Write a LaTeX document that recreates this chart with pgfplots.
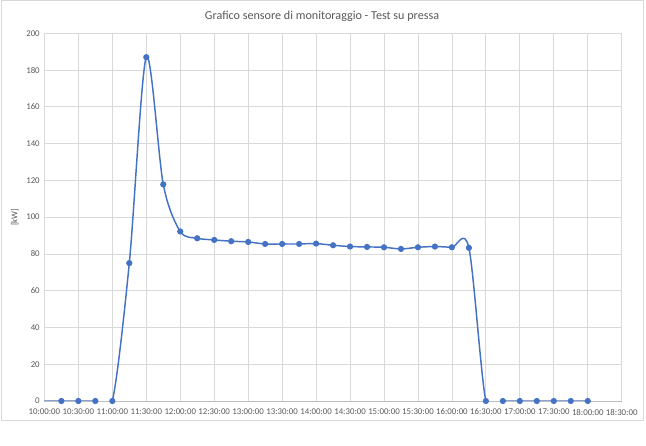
\documentclass[border=0pt]{standalone}
\usepackage{fontspec}
\setmainfont{Carlito}
\usepackage{pgfplots}
\pgfplotsset{compat=1.18}
\definecolor{xlblue}{HTML}{4472C4}
\definecolor{xlgrid}{HTML}{D9D9D9}
\definecolor{xltext}{HTML}{595959}
\definecolor{xlframe}{HTML}{D9D9D9}

\begin{document}
\begin{tikzpicture}
\useasboundingbox[fill=white] (0,0) rectangle (484.5pt,334.5pt);
\draw[xlframe, line width=0.75pt] (0.75pt,18.75pt) rectangle (482.25pt,333.75pt);
\node[text=xltext, font=\fontsize{9.1}{11}\selectfont] at (241.5pt,322.5pt)
  {Grafico sensore di monitoraggio - Test su pressa};
\begin{axis}[
    at={(33.3pt,33.75pt)}, anchor=south west,
    scale only axis,
    width=433pt, height=275.8pt,
    xmin=10, xmax=18.5, ymin=0, ymax=200,
    xtick={10,10.5,...,18.5},
    xticklabels={10:00:00,10:30:00,11:00:00,11:30:00,12:00:00,12:30:00,13:00:00,13:30:00,14:00:00,14:30:00,15:00:00,15:30:00,16:00:00,16:30:00,17:00:00,17:30:00,18:00:00,18:30:00},
    ytick={0,20,...,200},
    /pgf/number format/assume math mode=true,
    tick label style={text=xltext, font=\fontsize{6.6}{8}\selectfont},
    xticklabel style={yshift=-2.5pt},
    major tick length=0pt,
    xmajorgrids, ymajorgrids,
    grid style={xlgrid, line width=0.6pt},
    axis line style={xlgrid, line width=0.6pt},
    axis x line*=bottom,
    axis y line*=left,
    x axis line style={draw=xlgrid!70!gray},
    ylabel={[kW]},
    ylabel style={text=xltext, font=\fontsize{6.6}{8}\selectfont, yshift=-1pt},
    clip=true,
]
\addplot[xlblue, line width=1.1pt, smooth, tension=0.5,
    mark=*, mark size=1.75pt, mark options={fill=xlblue, draw=xlblue},
    mark indices={2,3,4,5,6,7,8,9,10,11,12,13,14,15,16,17,18,19,20,21,22,23,24,25,26,27,28,29,30,31,32,33}]
  coordinates {
  (10.00,0) (10.25,0) (10.50,0) (10.75,0) (11.00,0)
  (11.25,75) (11.50,187) (11.75,117.8) (12.00,92.2)
  (12.25,88.5) (12.50,87.6) (12.75,86.9) (13.00,86.5)
  (13.25,85.4) (13.50,85.4) (13.75,85.4) (14.00,85.6)
  (14.25,84.7) (14.50,84.0) (14.75,83.8) (15.00,83.6)
  (15.25,82.7) (15.50,83.6) (15.75,84.0) (16.00,83.6)
  (16.25,83.3) (16.50,0) (16.75,0) (17.00,0)
  (17.25,0) (17.50,0) (17.75,0) (18.00,0)
  };
\end{axis}
\end{tikzpicture}
\end{document}
